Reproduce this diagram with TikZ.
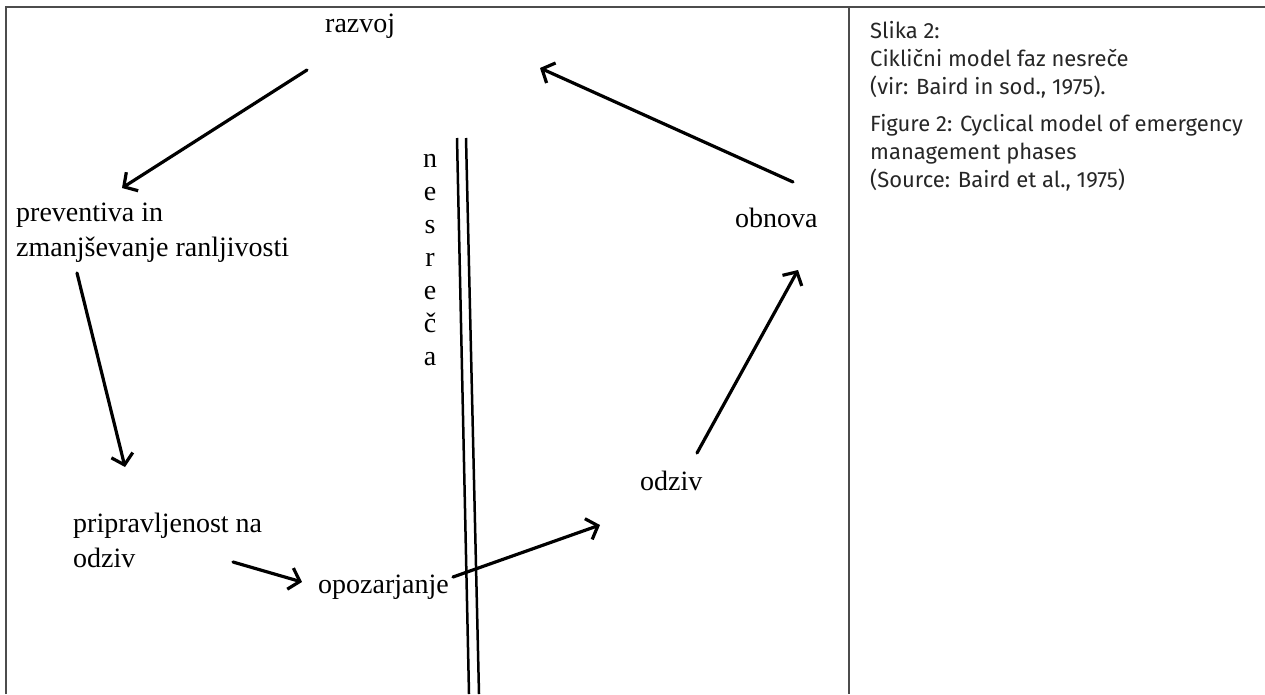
\documentclass[tikz,border=0pt]{standalone}
\usepackage{fontspec}
\setmainfont{Liberation Serif}
\newfontfamily\capfont{Fira Sans}
\usetikzlibrary{arrows.meta}

\tikzset{
  phase/.style={font=\fontsize{28}{35}\selectfont, inner sep=0pt, align=left, anchor=base west},
  cyc/.style={-{Straight Barb[length=10pt,width=22pt]}, line width=3.2pt, line cap=round},
  rail/.style={line width=2.5pt},
  frame/.style={draw=black!70, line width=1.6pt}
}

\begin{document}
\begin{tikzpicture}[x=1pt,y=-1pt]
  \useasboundingbox (0,0) rectangle (1265,694);

  % okvir
  \draw[frame] (6,694) -- (6,7) -- (1265,7);
  \draw[frame] (849,7) -- (849,694);

  % faze (zadnja vrstica na base)
  \node[phase] (razvoj) at (325,32) {razvoj};
  \node[phase] (preventiva) at (16,256) {preventiva in\\zmanjševanje ranljivosti};
  \node[phase] (pripravljenost) at (73,567) {pripravljenost na\\odziv};
  \node[phase] (opozarjanje) at (318,593) {opozarjanje};
  \node[phase] (odziv) at (640,490) {odziv};
  \node[phase] (obnova) at (735,227) {obnova};

  % nesreca
  \node[font=\fontsize{28}{33}\selectfont, inner sep=0pt, align=center, anchor=base] (nesreca) at (430,365)
    {n\\e\\s\\r\\e\\č\\a};
  \draw[rail] (457,138) -- (469,694);
  \draw[rail] (466,138) -- (479,694);

  % konci puscic
  \coordinate (razvoj-izhod) at (307,70);
  \coordinate (preventiva-vhod) at (122,188);
  \coordinate (preventiva-izhod) at (77,273);
  \coordinate (pripravljenost-vhod) at (125,467);
  \coordinate (pripravljenost-izhod) at (233,562);
  \coordinate (opozarjanje-vhod) at (302,582);
  \coordinate (opozarjanje-izhod) at (453,577);
  \coordinate (odziv-vhod) at (600,525);
  \coordinate (odziv-izhod) at (697,453);
  \coordinate (obnova-vhod) at (798,270);
  \coordinate (obnova-izhod) at (793,182);
  \coordinate (razvoj-vhod) at (540,68);

  % cikel
  \draw[cyc] (razvoj-izhod) -- (preventiva-vhod);
  \draw[cyc] (preventiva-izhod) -- (pripravljenost-vhod);
  \draw[cyc] (pripravljenost-izhod) -- (opozarjanje-vhod);
  \draw[cyc] (opozarjanje-izhod) -- (odziv-vhod);
  \draw[cyc] (odziv-izhod) -- (obnova-vhod);
  \draw[cyc] (obnova-izhod) -- (razvoj-vhod);

  % napis
  \node[font=\capfont\fontsize{22}{28}\selectfont, text=black!85, inner sep=0pt, align=left, anchor=base west] (napis) at (870,187)
    {Slika 2:\\Ciklični model faz nesreče\\(vir: Baird in sod., 1975).\\[9pt]Figure 2: Cyclical model of emergency\\management phases\\(Source: Baird et al., 1975)};
\end{tikzpicture}
\end{document}
